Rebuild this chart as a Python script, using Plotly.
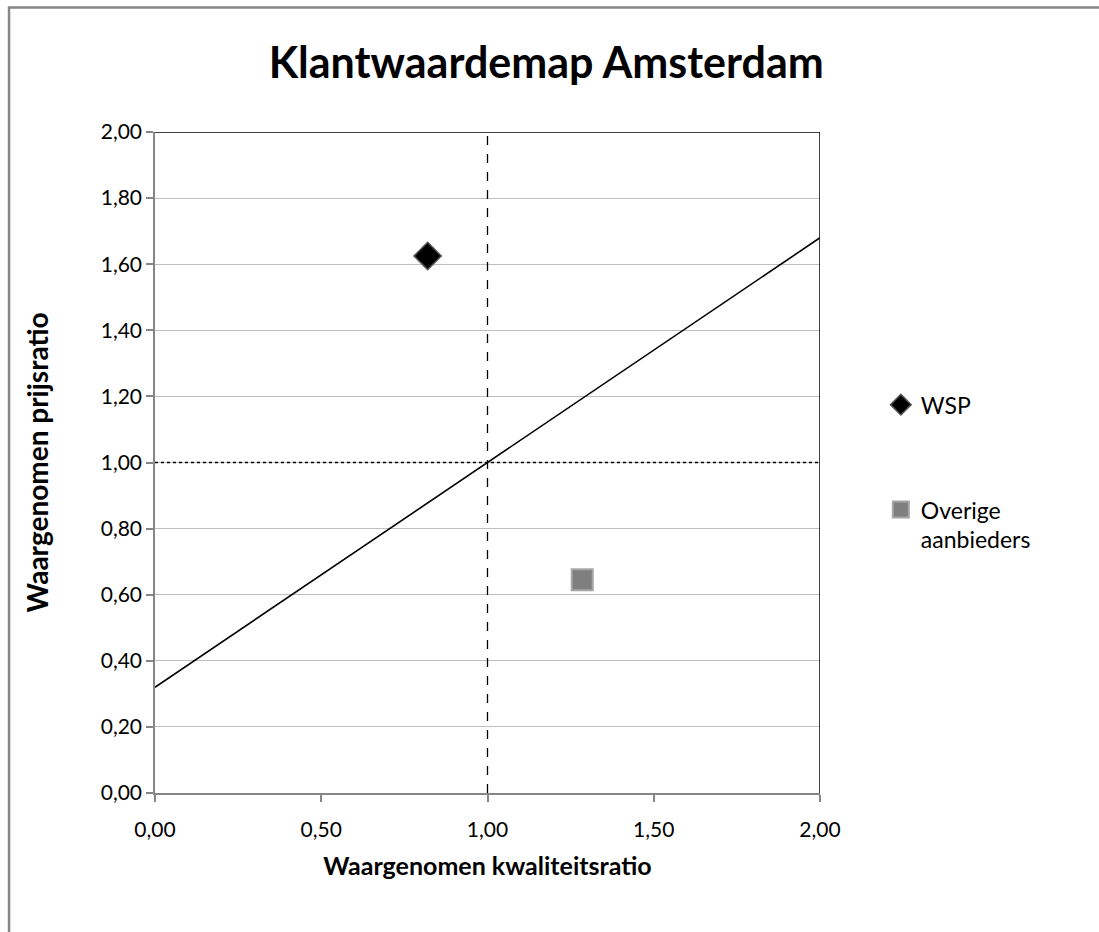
import plotly.graph_objects as go

# Meetpunten
wsp_kwaliteit = [0.82]
wsp_prijs = [1.625]
overig_kwaliteit = [1.285]
overig_prijs = [0.645]

# Hulplijnen
diagonaal_x = [0.0, 2.0]
diagonaal_y = [0.32, 1.68]
verticaal_x = [1.0, 1.0]
verticaal_y = [0.0, 2.0]
horizontaal_x = [0.0, 2.0]
horizontaal_y = [1.0, 1.0]
rand_boven_x = [0.0, 2.0]
rand_boven_y = [2.0, 2.0]
rand_rechts_x = [2.0, 2.0]
rand_rechts_y = [0.0, 2.0]

as_waarden = [0.0, 0.5, 1.0, 1.5, 2.0]
as_labels = ["0,00", "0,50", "1,00", "1,50", "2,00"]
y_waarden = [0.0, 0.2, 0.4, 0.6, 0.8, 1.0, 1.2, 1.4, 1.6, 1.8, 2.0]
y_labels = ["0,00", "0,20", "0,40", "0,60", "0,80", "1,00", "1,20", "1,40", "1,60", "1,80", "2,00"]

FONT = "Lato, 'Open Sans', sans-serif"

fig = go.Figure()

def hulplijn(x, y, dash, width=1.3):
    fig.add_trace(go.Scatter(x=x, y=y, mode="lines", showlegend=False, hoverinfo="skip",
                             line=dict(color="black", width=width, dash=dash)))

hulplijn(rand_boven_x, rand_boven_y, "solid", 1.5)
hulplijn(rand_rechts_x, rand_rechts_y, "solid", 1.5)
hulplijn(verticaal_x, verticaal_y, "dash", 1.3)
hulplijn(horizontaal_x, horizontaal_y, "dot", 1.3)
hulplijn(diagonaal_x, diagonaal_y, "solid", 1.6)

fig.add_trace(go.Scatter(
    x=wsp_kwaliteit, y=wsp_prijs, mode="markers", name="WSP", legendgroup="a",
    marker=dict(symbol="diamond", size=21, color="black", line=dict(color="#555555", width=1.5)),
))
fig.add_trace(go.Scatter(
    x=overig_kwaliteit, y=overig_prijs, mode="markers", name="Overige<br>aanbieders", legendgroup="b",
    marker=dict(symbol="square", size=21, color="#7f7f7f", line=dict(color="#a6a6a6", width=2)),
))

# Kader rond de hele grafiek
fig.add_shape(type="rect", xref="paper", yref="paper",
              x0=-0.2195, x1=1.45, y0=-0.25, y1=1.1885,
              line=dict(color="#868686", width=2.5), layer="below")

fig.update_layout(
    width=1099, height=932,
    margin=dict(l=155, r=279, t=132, b=139),
    paper_bgcolor="white", plot_bgcolor="white",
    font=dict(family=FONT, color="black", size=21),
    title=dict(text="<b>Klantwaardemap Amsterdam</b>", xref="container", x=0.497, xanchor="center",
               y=0.932, yanchor="middle", font=dict(size=43, family=FONT)),
    xaxis=dict(range=[0, 2], tickvals=as_waarden, ticktext=as_labels, showgrid=False,
               zeroline=False, showline=True, linecolor="#868686", linewidth=1.5,
               ticks="outside", ticklen=7, tickcolor="#868686", tickwidth=1.5,
               tickfont=dict(size=21), ticklabelstandoff=10,
               title=dict(text="<b>Waargenomen kwaliteitsratio</b>", font=dict(size=25), standoff=18)),
    yaxis=dict(range=[0, 2], tickvals=y_waarden, ticktext=y_labels, showgrid=True,
               gridcolor="#bfbfbf", gridwidth=1.3, zeroline=False, showline=True,
               linecolor="#868686", linewidth=1.5, ticks="outside", ticklen=7,
               tickcolor="#868686", tickwidth=1.5, tickfont=dict(size=21),
               title=dict(text="<b>Waargenomen prijsratio</b>", font=dict(size=28), standoff=44)),
    legend=dict(x=1.0915, y=0.62, xanchor="left", yanchor="top", font=dict(size=23),
                tracegroupgap=72, valign="top", bgcolor="rgba(0,0,0,0)"),
)

fig.write_html("out.html")
